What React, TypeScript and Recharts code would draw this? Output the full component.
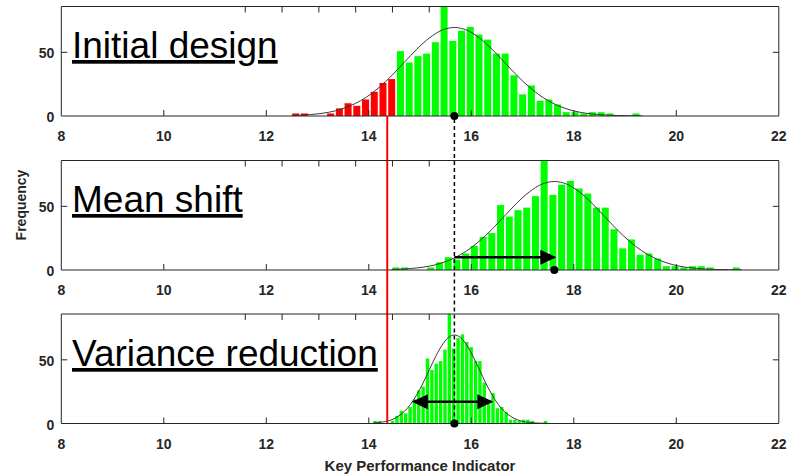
import React from 'react';
import {
  ComposedChart,
  Bar,
  Line,
  XAxis,
  YAxis,
  Cell,
  ReferenceLine,
  ReferenceDot,
} from 'recharts';

// histogram counts, one per bin (the same sample drawn in all three panels)
const counts = [
  2, 2, 0, 0, 2, 6, 10, 8, 13, 19, 26, 29, 51, 42, 47, 49, 58, 86, 59, 67,
  70, 64, 60, 49, 49, 32, 17, 24, 12, 13, 9, 3, 3, 2, 3, 3, 2, 0, 0, 2,
];
// bins of the initial design that fall below the spec limit
const redBins = 12;

const xTicks = [8, 10, 12, 14, 16, 18, 20, 22];
const yTicks = [0, 50];
const yMax = 86;

// fitted normal curve: offsets in sd, heights
const curveZ = [
  -3.25, -3, -2.75, -2.5, -2.25, -2, -1.75, -1.5, -1.25, -1, -0.75, -0.5, -0.25, 0,
  0.25, 0.5, 0.75, 1, 1.25, 1.5, 1.75, 2, 2.25, 2.5, 2.75, 3, 3.25, 3.5, 3.75,
];
const curveY = [
  0.4, 0.8, 1.6, 3.0, 5.5, 9.4, 15.0, 22.6, 31.8, 42.2, 52.5, 61.3, 67.4, 69.5,
  67.4, 61.3, 52.5, 42.2, 31.8, 22.6, 15.0, 9.4, 5.5, 3.0, 1.6, 0.8, 0.4, 0.2, 0.1,
];

const specLimit = 14.36;
const initialMean = 15.67;
const shiftedMean = 17.62;
// y value (in panel units) reaching up to the bottom of the panel above
const guideTop = 121;

const titles = ['Initial design', 'Mean shift', 'Variance reduction'];

const panels = [
  {
    top: 0, height: 150, marginTop: 5.5, marginBottom: 4,
    binStart: 12.486, binWidth: 0.1703, barSize: 7,
    mean: initialMean, sd: 0.977, red: redBins, guides: false,
    dotX: initialMean, arrow: null as null | { from: number; to: number; y: number; both: boolean },
  },
  {
    top: 116, height: 184, marginTop: 43.5, marginBottom: 0,
    binStart: 14.439, binWidth: 0.1703, barSize: 7,
    mean: shiftedMean, sd: 0.977, red: 0, guides: true,
    dotX: shiftedMean, arrow: { from: initialMean, to: shiftedMean, y: 10, both: false },
  },
  {
    top: 270, height: 206, marginTop: 43, marginBottom: 22.5,
    binStart: 14.09, binWidth: 0.0852, barSize: 3.4,
    mean: initialMean, sd: 0.489, red: 0, guides: true,
    dotX: initialMean, arrow: { from: 14.88, to: 16.39, y: 17, both: true },
  },
];

const FONT = '"Liberation Sans", Arial, Helvetica, sans-serif';
const axisColor = '#262626';
const tickText = { fontFamily: FONT, fontWeight: 700, fontSize: 14, fill: '#262626' };

const BottomTick = (props: any) => {
  const { x, y, payload } = props;
  const inner = payload.value > 8 && payload.value < 22;
  return (
    <g>
      {inner && <line x1={x} x2={x} y1={y} y2={y - 6} stroke={axisColor} />}
      <text x={x} y={y + 25} textAnchor="middle" {...tickText}>{payload.value}</text>
    </g>
  );
};

const TopTick = (props: any) => {
  const { x, y, payload } = props;
  if (payload.value <= 8 || payload.value >= 22) return <g />;
  return <line x1={x} x2={x} y1={y} y2={y + 6} stroke={axisColor} />;
};

const LeftTick = (props: any) => {
  const { x, y, payload } = props;
  return (
    <g>
      {payload.value > 0 && <line x1={x} x2={x + 6} y1={y} y2={y} stroke={axisColor} />}
      <text x={x - 7} y={y + 6} textAnchor="end" {...tickText}>{payload.value}</text>
    </g>
  );
};

const RightTick = (props: any) => {
  const { x, y, payload } = props;
  if (payload.value <= 0) return <g />;
  return <line x1={x} x2={x - 6} y1={y} y2={y} stroke={axisColor} />;
};

// draws a bar of fixed width centred on the bin centre
const BinBar = (props: any) => {
  const { x, y, width, height, fill, barW } = props;
  if (!height || height <= 0) return <g />;
  const cx = x + width / 2;
  return <rect x={cx - barW / 2} y={y} width={barW} height={height} fill={fill} />;
};

function Panel({ cfg }: { cfg: (typeof panels)[number] }) {
  const bins = counts.map((c, i) => ({ x: cfg.binStart + (i + 0.5) * cfg.binWidth, count: c }));
  const curve = curveZ.map((z, i) => ({ x: cfg.mean + z * cfg.sd, y: curveY[i] }));
  return (
    <div style={{ position: 'absolute', left: 0, top: cfg.top }}>
      <ComposedChart
        width={792}
        height={cfg.height}
        data={bins}
        margin={{ top: cfg.marginTop, right: 12.2, bottom: cfg.marginBottom, left: 21.3 }}
      >
        <XAxis
          type="number" dataKey="x" domain={[8, 22]} ticks={xTicks} interval={0}
          allowDataOverflow height={30} tickSize={0} tickMargin={0} tickLine={false}
          axisLine={{ stroke: axisColor }} tick={<BottomTick />}
        />
        <XAxis
          xAxisId="t" orientation="top" type="number" domain={[8, 22]} ticks={xTicks}
          interval={0} allowDataOverflow height={1} tickSize={0} tickMargin={0}
          tickLine={false} axisLine={{ stroke: axisColor }} tick={<TopTick />}
        />
        <XAxis xAxisId="c" type="number" dataKey="x" domain={[8, 22]} allowDataOverflow hide />
        <YAxis
          type="number" domain={[0, yMax]} ticks={yTicks} interval={0} allowDataOverflow
          width={40} tickSize={0} tickMargin={0} tickLine={false}
          axisLine={{ stroke: axisColor }} tick={<LeftTick />}
        />
        <YAxis
          yAxisId="r" orientation="right" type="number" domain={[0, yMax]} ticks={yTicks}
          interval={0} allowDataOverflow width={1} tickSize={0} tickMargin={0}
          tickLine={false} axisLine={{ stroke: axisColor }} tick={<RightTick />}
        />
        <Bar
          dataKey="count" barSize={cfg.barSize} isAnimationActive={false}
          shape={(p: any) => <BinBar {...p} barW={cfg.barSize} />}
        >
          {bins.map((b, i) => (
            <Cell key={i} fill={i < cfg.red ? '#ff0000' : '#00ff00'} />
          ))}
        </Bar>
        <Line
          xAxisId="c" data={curve} dataKey="y" type="monotone" dot={false} stroke="#3a3a3a"
          strokeWidth={1} isAnimationActive={false} activeDot={false}
        />
        {cfg.guides && (
          <ReferenceLine
            segment={[{ x: specLimit, y: 0 }, { x: specLimit, y: guideTop }]}
            stroke="#ff0000" strokeWidth={2} ifOverflow="visible"
          />
        )}
        {cfg.guides && (
          <ReferenceLine
            segment={[{ x: initialMean, y: 0 }, { x: initialMean, y: guideTop }]}
            stroke="#000" strokeWidth={1.5} strokeDasharray="4 3" ifOverflow="visible"
          />
        )}
        {cfg.arrow && (
          <ReferenceLine
            segment={[{ x: cfg.arrow.from, y: cfg.arrow.y }, { x: cfg.arrow.to, y: cfg.arrow.y }]}
            stroke="#000" strokeWidth={2.5} ifOverflow="visible"
            markerEnd="url(#ah)" markerStart={cfg.arrow.both ? 'url(#ah)' : undefined}
          />
        )}
        <ReferenceDot x={cfg.dotX} y={0} r={4} fill="#000" stroke="none" ifOverflow="visible" />
      </ComposedChart>
    </div>
  );
}

export default function App() {
  return (
    <div style={{ position: 'absolute', left: 0, top: 0, width: 792, height: 476, background: '#fff' }}>
      <svg width={0} height={0} style={{ position: 'absolute' }}>
        <defs>
          <marker
            id="ah" markerUnits="userSpaceOnUse" markerWidth={18} markerHeight={16}
            refX={14} refY={7.5} orient="auto-start-reverse"
          >
            <path d="M0,0 L16,7.5 L0,15 z" fill="#000" />
          </marker>
        </defs>
      </svg>
      {panels.map((p, i) => (
        <Panel key={i} cfg={p} />
      ))}
      <svg
        width={792} height={476}
        style={{ position: 'absolute', left: 0, top: 0, pointerEvents: 'none' }}
      >
        {titles.map((t, i) => (
          <text
            key={t} x={72} y={58 + i * 154} fontFamily={FONT} fontSize={37} fill="#000"
            style={{ textDecoration: 'underline' }}
          >
            {t}
          </text>
        ))}
        <text
          transform="translate(26,205) rotate(-90)" textAnchor="middle"
          fontFamily={FONT} fontWeight={700} fontSize={14} fill="#262626"
        >
          Frequency
        </text>
        <text
          x={420} y={471} textAnchor="middle" fontFamily={FONT} fontWeight={700}
          fontSize={15} fill="#262626"
        >
          Key Performance Indicator
        </text>
      </svg>
    </div>
  );
}
